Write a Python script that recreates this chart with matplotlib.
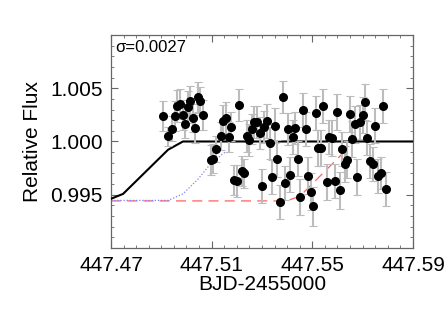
import numpy as np
import matplotlib
matplotlib.use("Agg")
import matplotlib.pyplot as plt
from matplotlib.ticker import MultipleLocator

# --- data ------------------------------------------------------------------
bjd = [447.4907, 447.4925, 447.4944, 447.4954, 447.4963, 447.4974, 447.4985,
       447.4995, 447.5005, 447.5015, 447.5026, 447.5035, 447.5044, 447.5055,
       447.5067, 447.5097, 447.5107, 447.5117, 447.5137, 447.5146, 447.5157,
       447.5168, 447.5178, 447.5189, 447.5200, 447.5209, 447.5219, 447.5228,
       447.5239, 447.5250, 447.5260, 447.5269, 447.5280, 447.5291, 447.5301,
       447.5309, 447.5320, 447.5330, 447.5340, 447.5350, 447.5361, 447.5371,
       447.5382, 447.5391, 447.5402, 447.5412, 447.5422, 447.5432, 447.5443,
       447.5452, 447.5463, 447.5474, 447.5483, 447.5494, 447.5503, 447.5513,
       447.5524, 447.5533, 447.5544, 447.5557, 447.5568, 447.5578, 447.5589,
       447.5598, 447.5609, 447.5619, 447.5628, 447.5639, 447.5648, 447.5658,
       447.5669, 447.5678, 447.5689, 447.5700, 447.5710, 447.5719, 447.5730,
       447.5741, 447.5750, 447.5761, 447.5771, 447.5782, 447.5791]
flux = [1.0024, 1.0005, 1.0012, 1.0024, 1.0033, 1.0035, 1.0025,
        1.0016, 1.0032, 1.0038, 1.0022, 1.0013, 1.0042, 1.0038,
        1.0025, 0.9983, 0.9984, 0.9993, 1.0005, 1.0019, 1.0022,
        1.0004, 1.0014, 0.9964, 0.9963, 1.0034, 0.9972, 0.9970,
        1.0005, 1.0001, 1.0012, 1.0018, 1.0018, 1.0008, 0.9958,
        1.0014, 1.0019, 0.9999, 0.9967, 1.0015, 0.9984, 0.9943,
        1.0042, 0.9961, 1.0012, 0.9969, 1.0004, 1.0013, 0.9984,
        0.9948, 1.0030, 1.0012, 0.9968, 0.9953, 0.9939, 1.0027,
        0.9994, 0.9994, 1.0033, 0.9962, 1.0004, 1.0003, 0.9963,
        1.0028, 0.9954, 0.9993, 0.9979, 0.9983, 1.0026, 1.0002,
        1.0016, 0.9967, 1.0018, 1.0025, 1.0037, 1.0003, 0.9982,
        0.9979, 1.0015, 0.9968, 0.9970, 1.0033, 0.9955]
flux_err = [0.0014, 0.0009, 0.0012, 0.0014, 0.0015, 0.0014, 0.0014,
            0.0013, 0.0015, 0.0014, 0.0013, 0.0014, 0.0014, 0.0013,
            0.0014, 0.0014, 0.0014, 0.0012, 0.0013, 0.0015, 0.0015,
            0.0014, 0.0014, 0.0014, 0.0015, 0.0015, 0.0014, 0.0014,
            0.0015, 0.0015, 0.0014, 0.0015, 0.0015, 0.0015, 0.0016,
            0.0015, 0.0016, 0.0015, 0.0016, 0.0016, 0.0017, 0.0016,
            0.0015, 0.0016, 0.0015, 0.0016, 0.0016, 0.0015, 0.0016,
            0.0017, 0.0016, 0.0016, 0.0017, 0.0017, 0.0018, 0.0016,
            0.0017, 0.0017, 0.0016, 0.0017, 0.0016, 0.0017, 0.0016,
            0.0017, 0.0017, 0.0016, 0.0017, 0.0017, 0.0017, 0.0017,
            0.0017, 0.0017, 0.0016, 0.0017, 0.0017, 0.0016, 0.0016,
            0.0016, 0.0016, 0.0016, 0.0015, 0.0016, 0.0016]

# model curves
model_t = [447.47, 447.4748, 447.4927, 447.4986, 447.59]
model_f = [0.99462, 0.99508, 0.99923, 1.0000, 1.0000]
early_t = [447.47, 447.4927, 447.4986, 447.5046, 447.5099, 447.5158]
early_f = [0.99447, 0.99447, 0.99508, 0.99647, 0.9980, 0.99908]
late_t = [447.47, 447.5371, 447.5411, 447.5451, 447.5623]
late_f = [0.99442, 0.99442, 0.99453, 0.99487, 0.99893]

SIGMA_TXT = "σ=0.0027"

plt.rcParams["font.family"] = ["Liberation Sans", "DejaVu Sans"]

fig = plt.figure(figsize=(4.47, 3.19), dpi=100)
ax = fig.add_axes([0.2483, 0.2226, 0.6756, 0.6677])

ax.plot(late_t, late_f, color="#ff6060", ls=(0, (8, 5)), lw=0.9, zorder=2)
ax.plot(early_t, early_f, color="#8080ff", ls=(0, (1, 1.5)), lw=0.9, zorder=2)
ax.plot(model_t, model_f, color="black", lw=1.5, zorder=3)

_, caps, bars = ax.errorbar(bjd, flux, yerr=flux_err, fmt="o", color="black",
                            ms=5.5, ecolor="#bcbcbc", elinewidth=1.5,
                            capsize=3, capthick=0.8, zorder=4)
for c in caps:
    c.set_color("#808080")

ax.set_xlim(447.47, 447.59)
ax.set_ylim(0.990, 1.010)
ax.xaxis.set_major_locator(MultipleLocator(0.04))
ax.xaxis.set_minor_locator(MultipleLocator(0.005))
ax.yaxis.set_major_locator(MultipleLocator(0.005))
ax.yaxis.set_minor_locator(MultipleLocator(0.001))
ax.set_yticks([0.995, 1.000, 1.005])
ax.set_yticklabels(["0.995", "1.000", "1.005"])
ax.set_xticks([447.47, 447.51, 447.55, 447.59])
ax.set_xticklabels(["447.47", "447.51", "447.55", "447.59"])

ax.tick_params(which="both", direction="in", top=True, right=True,
               color="#666666", labelsize=15, labelcolor="black")
ax.tick_params(which="major", length=5, width=0.8, pad=6)
ax.tick_params(which="minor", length=2.5, width=0.6)
for s in ax.spines.values():
    s.set_color("#666666")
    s.set_linewidth(0.9)

ax.set_xlabel("BJD-2455000", fontsize=15, labelpad=0)
ax.set_ylabel("Relative Flux", fontsize=15, labelpad=6)
ax.text(0.015, 0.975, SIGMA_TXT, transform=ax.transAxes, fontsize=12,
        ha="left", va="top")

fig.savefig("out.png", dpi=100)
